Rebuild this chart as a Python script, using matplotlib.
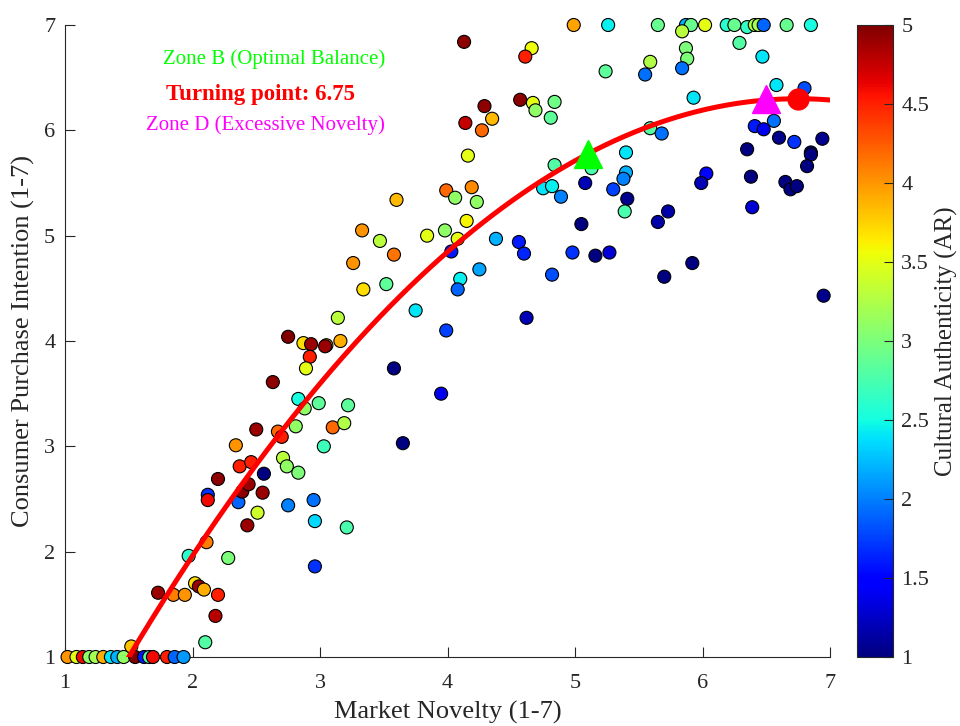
import matplotlib
matplotlib.use("Agg")
import matplotlib.pyplot as plt
import numpy as np

plt.rcParams["font.family"] = ["Liberation Serif", "DejaVu Serif"]

# Market novelty (x), purchase intention (y), cultural authenticity (colour)
novelty = [
    1.02, 1.09, 1.14, 1.19, 1.24, 1.30, 1.36, 1.41, 1.46, 1.52, 1.55, 1.62,
    1.66, 1.69, 1.80, 1.86, 1.93,
    2.12, 2.12, 2.20, 2.36, 2.39, 2.44, 2.55, 2.51, 2.43, 2.75, 2.11, 1.97,
    2.28, 1.73, 1.85, 1.94, 2.02, 2.05, 2.09, 2.20, 2.18, 2.10,
    3.14, 2.75, 2.87, 2.93, 3.05, 3.04, 3.16, 2.92, 2.89, 2.63, 2.83, 2.88,
    2.99, 3.22, 2.81, 2.67, 2.70, 3.10, 3.19, 3.03, 2.34, 2.50, 2.37, 2.46,
    2.56, 2.95, 2.96, 3.21, 2.96, 2.71, 2.74, 2.83,
    4.16, 3.99, 4.19, 4.06, 4.23, 3.60, 4.15, 3.33, 3.47, 3.58, 3.26, 3.84,
    3.98, 4.08, 4.03, 4.38, 4.56, 4.25, 4.10, 4.08, 3.52, 3.34, 3.75, 3.99,
    3.58, 3.95, 3.65,
    4.99, 5.26, 5.65, 5.87, 5.91, 6.02, 6.19, 6.25, 6.35, 6.41, 6.44, 6.48,
    6.66, 6.85, 5.84, 5.87, 5.88, 5.84, 5.59, 5.55, 5.24, 6.29, 6.47, 4.13,
    4.66, 4.61, 4.57, 4.67, 4.69, 4.84, 4.81, 4.29, 4.35, 4.14, 4.27, 5.93,
    6.58, 6.80, 6.56, 6.41, 6.48, 6.60, 6.72, 6.94, 6.35, 6.85, 6.85, 5.59,
    5.68, 5.40,
    6.82, 6.38, 6.65, 6.69, 6.74, 6.39, 6.95, 6.03, 5.99, 5.73, 5.65, 5.92,
    5.70, 5.40, 5.38, 5.30, 5.41, 5.39, 5.13, 5.08, 4.84, 4.75, 4.82, 4.89,
    5.05, 4.60, 4.82, 4.98, 5.16, 5.27, 4.62,
]
intention = [
    1.00, 1.00, 1.00, 1.00, 1.00, 1.00, 1.00, 1.00, 1.00, 1.10, 1.00, 1.00,
    1.00, 1.00, 1.00, 1.00, 1.00,
    2.54, 2.49, 2.69, 2.47, 2.57, 2.64, 2.56, 2.37, 2.25, 2.44, 2.09, 1.96,
    1.94, 1.61, 1.59, 1.59, 1.70, 1.67, 1.64, 1.59, 1.39, 1.14,
    4.22, 4.04, 3.98, 3.97, 3.96, 3.95, 4.00, 3.85, 3.74, 3.61, 3.45, 3.36,
    3.41, 3.39, 3.19, 3.14, 3.09, 3.18, 3.22, 3.00, 3.01, 3.16, 2.81, 2.85,
    2.74, 2.49, 2.29, 2.23, 1.86, 2.89, 2.81, 2.75,
    5.76, 5.43, 5.46, 5.36, 5.32, 5.34, 5.14, 5.05, 4.95, 4.82, 4.74, 5.00,
    5.05, 4.97, 4.85, 4.97, 4.94, 4.68, 4.59, 4.49, 4.54, 4.49, 4.29, 4.10,
    3.74, 3.50, 3.03,
    7.00, 7.00, 7.00, 7.00, 7.00, 7.00, 7.00, 7.00, 6.98, 7.00, 7.00, 7.00,
    7.00, 7.00, 6.94, 6.78, 6.68, 6.59, 6.65, 6.53, 6.56, 6.83, 6.70, 6.84,
    6.78, 6.70, 6.29, 6.26, 6.19, 6.27, 6.12, 6.23, 6.11, 6.07, 6.00, 6.31,
    6.43, 6.40, 6.09, 6.04, 6.01, 5.93, 5.89, 5.92, 5.82, 5.79, 5.77, 6.02,
    5.97, 5.79,
    5.66, 5.56, 5.51, 5.44, 5.47, 5.27, 4.43, 5.59, 5.50, 5.23, 5.13, 4.74,
    4.61, 5.60, 5.54, 5.44, 5.35, 5.23, 5.64, 5.50, 5.67, 5.45, 5.47, 5.37,
    5.11, 4.83, 4.63, 4.84, 4.81, 4.84, 4.22,
]
authenticity = [
    4.0, 3.5, 4.6, 3.1, 3.2, 3.9, 2.4, 2.2, 3.1, 3.8, 5.0, 1.6,
    2.8, 4.6, 4.5, 1.9, 2.1,
    1.7, 4.6, 4.95, 1.9, 4.95, 4.9, 4.9, 3.4, 4.9, 2.0, 4.1, 2.6,
    3.0, 4.9, 4.1, 4.0, 3.7, 4.9, 3.9, 4.5, 4.8, 2.8,
    3.3, 5.0, 3.7, 4.9, 3.9, 4.9, 3.9, 4.5, 3.5, 4.95, 2.5, 3.1,
    2.85, 2.85, 3.1, 4.2, 4.5, 4.2, 3.25, 2.7, 4.0, 4.9, 4.5, 4.5,
    1.0, 1.95, 2.35, 2.75, 1.7, 3.3, 3.1, 3.0,
    3.5, 4.2, 4.05, 3.1, 3.1, 3.85, 3.6, 4.0, 3.3, 4.15, 4.0, 3.5,
    3.1, 3.5, 1.6, 2.2, 1.6, 2.15, 2.45, 1.9, 2.85, 3.7, 2.4, 1.75,
    1.0, 1.4, 1.0,
    3.95, 2.45, 2.9, 2.2, 2.9, 3.5, 2.6, 2.9, 2.65, 3.25, 3.2, 1.9,
    2.9, 2.5, 3.3, 3.0, 3.0, 1.95, 3.25, 1.95, 2.85, 2.8, 2.4, 4.95,
    3.55, 4.5, 4.95, 3.5, 3.1, 2.95, 2.85, 4.95, 3.85, 4.75, 4.2, 2.4,
    2.4, 1.8, 1.95, 1.6, 1.4, 1.05, 1.7, 1.05, 1.0, 1.0, 1.0, 2.8,
    1.95, 2.4,
    1.0, 1.0, 1.0, 1.0, 1.0, 1.3, 1.05, 1.5, 1.2, 1.15, 1.15, 1.0,
    1.0, 2.2, 2.0, 1.75, 1.05, 2.75, 2.75, 1.2, 2.8, 2.4, 2.45, 2.0,
    1.0, 1.65, 1.8, 1.7, 1.0, 1.3, 1.2,
]

# quadratic fit in vertex form: y = peak - k * (x - turn)^2
turn_x = 6.75
peak_y = 6.30
curv_k = 0.1923

zone_b_point = (5.10, 5.78)
zone_d_point = (6.50, 6.30)

fig = plt.figure(figsize=(9.6, 7.26), dpi=100)
ax = fig.add_axes([65 / 960, 69 / 726, 765 / 960, 632 / 726])
cax = fig.add_axes([857 / 960, 69 / 726, 36 / 960, 632 / 726])

sc = ax.scatter(novelty, intention, c=authenticity, cmap="jet", vmin=1, vmax=5,
                s=88, edgecolors="black", linewidths=0.8, zorder=3, clip_on=False)

xs = np.linspace(1, 7, 300)
ax.plot(xs, peak_y - curv_k * (xs - turn_x) ** 2, color="red", lw=3.6, zorder=4)

ax.plot(*zone_b_point, "^", color=(0, 1, 0), markersize=20, zorder=5, clip_on=False)
ax.plot(*zone_d_point, "^", color=(1, 0, 1), markersize=20, zorder=5, clip_on=False)
ax.plot(turn_x, peak_y, "o", color="red", markersize=15, zorder=5, clip_on=False)

ax.text(2.64, 6.68, "Zone B (Optimal Balance)", color=(0, 1, 0), fontsize=15,
        ha="center", va="center")
ax.text(2.53, 6.34, "Turning point: 6.75", color="red", fontsize=16.5,
        fontweight="bold", ha="center", va="center")
ax.text(2.57, 6.05, "Zone D (Excessive Novelty)", color=(1, 0, 1), fontsize=15,
        ha="center", va="center")

ax.set_xlim(1, 7)
ax.set_ylim(1, 7)
ax.set_xticks(range(1, 8))
ax.set_yticks(range(1, 8))
for side in ("top", "right"):
    ax.spines[side].set_visible(False)
for side in ("left", "bottom"):
    ax.spines[side].set_color("0.15")
ax.tick_params(direction="in", length=7.5, labelsize=16, colors="0.15")
ax.tick_params(axis="x", pad=12)
ax.tick_params(axis="y", pad=7)
ax.set_xlabel("Market Novelty (1-7)", fontsize=19, color="0.15")
ax.set_ylabel("Consumer Purchase Intention (1-7)", fontsize=19, color="0.15")
ax.xaxis.set_label_coords(0.5, -0.088)
ax.yaxis.set_label_coords(-0.054, 0.5)
ax.xaxis.label.set_va("center")
ax.yaxis.label.set_va("center")

cbar = fig.colorbar(sc, cax=cax)
cbar.set_ticks(np.arange(1, 5.01, 0.5))
cbar.set_ticklabels(["1", "1.5", "2", "2.5", "3", "3.5", "4", "4.5", "5"])
cbar.ax.tick_params(direction="in", length=6.5, labelsize=16, colors="0.15", pad=6)
cbar.outline.set_edgecolor("0.15")
cbar.set_label("Cultural Authenticity (AR)", fontsize=18, color="0.15")
cbar.ax.yaxis.set_label_coords((946 - 857) / 36, 0.5)
cbar.ax.yaxis.label.set_va("center")

fig.savefig("out.png", dpi=100)
